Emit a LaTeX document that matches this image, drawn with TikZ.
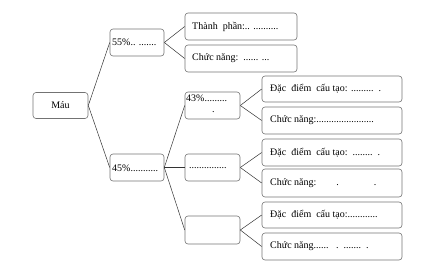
\documentclass[tikz,border=0pt]{standalone}
\usepackage{fontspec}
\setmainfont{Liberation Serif}
\begin{document}
\begin{tikzpicture}[x=1pt,y=-1pt,
  bx/.style={draw=black!55, line width=0.6pt, rounded corners=3pt, minimum height=27pt, inner sep=0pt},
  txt/.style={font=\fontsize{10}{11}\selectfont, inner sep=0pt, anchor=west},
  link/.style={draw=black!80, line width=0.5pt}]
\useasboundingbox (0,0) rectangle (441,271);
% boxes
\node[bx, minimum width=55pt, minimum height=26pt] (mau) at (60.5,105.5) {};
\node[bx, minimum width=54pt] (p55) at (137,42.5) {};
\node[bx, minimum width=112pt] (tp) at (241,26.5) {};
\node[bx, minimum width=112pt] (cn0) at (241,58.5) {};
\node[bx, minimum width=55pt] (p43) at (212.5,105.5) {};
\node[bx, minimum width=140pt, minimum height=26pt] (dd1) at (332,89) {};
\node[bx, minimum width=140pt] (cn1) at (332,120.5) {};
\node[bx, minimum width=54pt] (p45) at (137,167.5) {};
\node[bx, minimum width=55pt] (mid) at (212.5,167.5) {};
\node[bx, minimum width=140pt] (dd2) at (332,152.5) {};
\node[bx, minimum width=140pt, minimum height=28pt] (cn2) at (332,183) {};
\node[bx, minimum width=55pt, minimum height=28pt] (bot) at (212.5,230) {};
\node[bx, minimum width=140pt, minimum height=26pt] (dd3) at (332,215) {};
\node[bx, minimum width=140pt] (cn3) at (332,246.5) {};
% texts
\node[txt, anchor=center] (tmau) at (mau.center) {Máu};
\node[txt] (t55) at (112,42) {55\%.. .......};
\node[txt] (ttp) at (192,26.5) {Thành\ \ phần:.. ..........};
\node[txt] (tcn0) at (192,58) {Chức năng:\ \ ...... ...};
\node[txt] (t43) at (186,98.5) {43\%.........};
\node[txt] (t43b) at (212,112.5) {.};
\node[txt] (tdd1) at (270,89) {Đặc\ \ điểm\ \ cấu tạo: .........\ \ .};
\node[txt] (tcn1) at (270,120.5) {Chức năng:.......................};
\node[txt] (t45) at (112,168) {45\%...........};
\node[txt] (tmid) at (189,168) {...............};
\node[txt] (tdd2) at (270,152.5) {Đặc\ \ điểm\ \ cấu tạo:\ \ ........\ \ .};
\node[txt] (tcn2) at (270,183) {Chức năng:\qquad .\qquad\quad\ \ .};
\node[txt] (tdd3) at (270,215) {Đặc\ \ điểm\ \ cấu tạo:............};
\node[txt] (tcn3) at (270,246.5) {Chức năng......\ \ \ .\ \ .......\ \ .};
% connectors
\draw[link] (mau.east) -- (p55.west);
\draw[link] (mau.east) -- (p45.west);
\draw[link] (p55.east) -- (tp.west);
\draw[link] (p55.east) -- (cn0.west);
\draw[link] (p45.east) -- (p43.west);
\draw[link] (p45.east) -- (mid.west);
\draw[link] (p45.east) -- (bot.west);
\draw[link] (p43.east) -- (dd1.west);
\draw[link] (p43.east) -- (cn1.west);
\draw[link] (mid.east) -- (dd2.west);
\draw[link] (mid.east) -- (cn2.west);
\draw[link] (bot.east) -- (dd3.west);
\draw[link] (bot.east) -- (cn3.west);
\end{tikzpicture}
\end{document}
